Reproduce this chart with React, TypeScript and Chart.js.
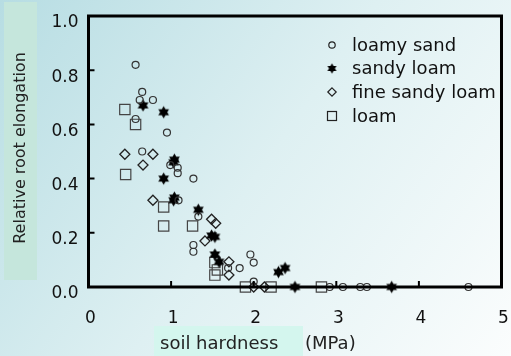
import React, { useEffect, useRef } from 'react';
import { Chart, registerables } from 'chart.js';

Chart.register(...registerables);

// ---- data ----
const loamySandX = [0.57, 0.65, 0.62, 0.78, 0.57, 0.95, 0.65, 0.99, 1.08, 1.08, 1.27, 1.09, 1.33, 1.27, 1.27, 1.69, 1.83, 1.96, 2.0, 2.0, 2.92, 3.08, 3.29, 3.37, 4.6];
const loamySandY = [0.82, 0.72, 0.69, 0.69, 0.62, 0.57, 0.5, 0.45, 0.44, 0.42, 0.4, 0.32, 0.26, 0.155, 0.13, 0.07, 0.07, 0.12, 0.09, 0.02, 0, 0, 0, 0, 0];

const sandyLoamX = [0.66, 0.91, 1.03, 1.04, 0.91, 1.03, 1.04, 1.33, 1.49, 1.53, 1.53, 1.58, 2.3, 2.38, 2.5, 3.67];
const sandyLoamY = [0.67, 0.645, 0.46, 0.47, 0.4, 0.32, 0.33, 0.285, 0.19, 0.185, 0.12, 0.093, 0.055, 0.07, 0, 0];

const fineSandyLoamX = [0.44, 0.78, 0.66, 0.78, 1.49, 1.54, 1.41, 1.7, 1.7, 2.0, 2.13];
const fineSandyLoamY = [0.49, 0.49, 0.45, 0.32, 0.25, 0.235, 0.17, 0.093, 0.044, 0, 0];

const loamX = [0.44, 0.57, 0.45, 0.91, 0.91, 1.26, 1.53, 1.56, 1.53, 1.9, 2.21, 2.82];
const loamY = [0.655, 0.6, 0.415, 0.295, 0.225, 0.225, 0.09, 0.063, 0.044, 0, 0, 0];

const seriesLabels = ['loamy sand', 'sandy loam', 'fine sandy loam', 'loam'];
const xTicks = [0, 1, 2, 3, 4, 5];
const yTicks = [0, 0.2, 0.4, 0.6, 0.8, 1.0];
const xTickLabels = ['0', '1', '2', '3', '4', '5'];
const yTickLabels = ['0.0', '0.2', '0.4', '0.6', '0.8', '1.0'];
const yTitle = 'Relative root elongation';
const xTitle = 'soil hardness';
const xUnit = '(MPa)';

function makeStar(outer: number, inner: number, points: number): HTMLCanvasElement {
  const size = Math.ceil(outer * 2 + 2);
  const c = document.createElement('canvas');
  c.width = size;
  c.height = size;
  const g = c.getContext('2d')!;
  const cx = size / 2;
  const cy = size / 2;
  g.beginPath();
  for (let i = 0; i < points * 2; i++) {
    const r = i % 2 === 0 ? outer : inner;
    const a = -Math.PI / 2 + (i * Math.PI) / points;
    const px = cx + r * Math.cos(a);
    const py = cy + r * Math.sin(a);
    if (i === 0) g.moveTo(px, py);
    else g.lineTo(px, py);
  }
  g.closePath();
  g.fillStyle = '#000';
  g.fill();
  return c;
}

const toPts = (xs: number[], ys: number[]) => xs.map((x, i) => ({ x, y: ys[i] }));

export default function App() {
  const ref = useRef<HTMLCanvasElement>(null);

  useEffect(() => {
    document.body.style.margin = '0';
    const star = makeStar(6.2, 3.6, 6);
    const legendStar = makeStar(5.2, 3.0, 6);

    const datasets: any[] = [
      {
        label: seriesLabels[0],
        data: toPts(loamySandX, loamySandY),
        pointStyle: 'circle',
        pointRadius: 3.5,
        pointBorderWidth: 1.2,
        borderColor: '#333',
        backgroundColor: 'rgba(0,0,0,0)',
        clip: false,
      },
      {
        label: seriesLabels[1],
        data: toPts(sandyLoamX, sandyLoamY),
        pointStyle: star,
        pointRadius: 6,
        borderColor: '#000',
        backgroundColor: '#000',
        clip: false,
      },
      {
        label: seriesLabels[2],
        data: toPts(fineSandyLoamX, fineSandyLoamY),
        pointStyle: 'rectRot',
        pointRadius: 5,
        pointBorderWidth: 1.3,
        borderColor: '#222',
        backgroundColor: 'rgba(0,0,0,0)',
        clip: false,
      },
      {
        label: seriesLabels[3],
        data: toPts(loamX, loamY),
        pointStyle: 'rect',
        pointRadius: 7.3,
        pointBorderWidth: 1.2,
        borderColor: '#444',
        backgroundColor: 'rgba(0,0,0,0)',
        clip: false,
      },
    ];

    const decor = {
      id: 'decor',
      beforeDraw(chart: any) {
        const ctx = chart.ctx as CanvasRenderingContext2D;
        const W = chart.width;
        const H = chart.height;
        ctx.save();
        const grad = ctx.createLinearGradient(0, 0, W, H);
        grad.addColorStop(0, '#b7dde3');
        grad.addColorStop(0.5, '#def0f2');
        grad.addColorStop(1, '#fbfdfd');
        ctx.fillStyle = grad;
        ctx.fillRect(0, 0, W, H);

        // y title box + text
        ctx.fillStyle = '#c5e6dc';
        ctx.fillRect(4, 2, 33, 278);
        ctx.translate(20.5, 148);
        ctx.rotate(-Math.PI / 2);
        ctx.fillStyle = '#222';
        ctx.font = '16px "DejaVu Sans"';
        ctx.textAlign = 'center';
        ctx.textBaseline = 'middle';
        ctx.fillText(yTitle, 0, 0);
        ctx.restore();

        // x title box + text
        ctx.save();
        ctx.fillStyle = '#d4f6ee';
        ctx.fillRect(154, 326, 149, 30);
        ctx.fillStyle = '#222';
        ctx.font = '18px "DejaVu Sans"';
        ctx.textAlign = 'left';
        ctx.textBaseline = 'alphabetic';
        ctx.fillText(xTitle, 160, 349);
        ctx.fillText(xUnit, 305, 349);
        ctx.restore();

        // tick labels
        const xs = chart.scales.x;
        const ys = chart.scales.y;
        ctx.save();
        ctx.fillStyle = '#111';
        ctx.font = '17px "DejaVu Sans"';
        ctx.textBaseline = 'middle';
        ctx.textAlign = 'right';
        yTicks.forEach((v, i) => {
          ctx.fillText(yTickLabels[i], 78.5, ys.getPixelForValue(v) + 7);
        });
        ctx.textAlign = 'center';
        xTicks.forEach((v, i) => {
          ctx.fillText(xTickLabels[i], xs.getPixelForValue(v) + 2, 318.5);
        });
        ctx.restore();
      },
      afterDatasetsDraw(chart: any) {
        const ctx = chart.ctx as CanvasRenderingContext2D;
        const { left, right, top, bottom } = chart.chartArea;
        const xs = chart.scales.x;
        const ys = chart.scales.y;
        ctx.save();
        ctx.strokeStyle = '#000';
        ctx.lineWidth = 2;
        ctx.beginPath();
        for (const v of yTicks) {
          if (v <= 0 || v >= 1) continue;
          const py = ys.getPixelForValue(v);
          ctx.moveTo(left, py);
          ctx.lineTo(left + 6, py);
        }
        for (const v of xTicks) {
          if (v <= 0 || v >= 5) continue;
          const px = xs.getPixelForValue(v);
          ctx.moveTo(px, bottom);
          ctx.lineTo(px, bottom - 6);
        }
        ctx.stroke();
        ctx.lineWidth = 3;
        ctx.strokeRect(left, top, right - left, bottom - top);
        ctx.restore();
      },
      afterDraw(chart: any) {
        const ctx = chart.ctx as CanvasRenderingContext2D;
        const mx = 332;
        const tx = 352;
        const rows = [45, 68.5, 92, 116];
        ctx.save();
        ctx.font = '18px "DejaVu Sans"';
        ctx.fillStyle = '#111';
        ctx.textAlign = 'left';
        ctx.textBaseline = 'middle';
        rows.forEach((y, i) => {
          ctx.fillText(seriesLabels[i], tx, y + 1);
        });
        ctx.strokeStyle = '#222';
        ctx.lineWidth = 1.2;
        ctx.beginPath();
        ctx.arc(mx, rows[0], 3.2, 0, Math.PI * 2);
        ctx.stroke();
        ctx.drawImage(legendStar, mx - legendStar.width / 2, rows[1] - legendStar.height / 2);
        ctx.beginPath();
        ctx.moveTo(mx, rows[2] - 4.2);
        ctx.lineTo(mx + 4.2, rows[2]);
        ctx.lineTo(mx, rows[2] + 4.2);
        ctx.lineTo(mx - 4.2, rows[2]);
        ctx.closePath();
        ctx.stroke();
        ctx.strokeRect(mx - 4.5, rows[3] - 4.5, 9, 9);
        ctx.restore();
      },
    };

    const chart = new Chart(ref.current!, {
      type: 'scatter',
      data: { datasets },
      options: {
        animation: false,
        responsive: false,
        devicePixelRatio: 1,
        layout: { padding: { top: 16, right: 9.5, left: 0, bottom: 0 } },
        plugins: { legend: { display: false }, tooltip: { enabled: false } },
        scales: {
          x: {
            type: 'linear',
            min: 0,
            max: 5,
            grid: { display: false, drawTicks: false },
            border: { display: false },
            ticks: { display: false },
            afterBuildTicks: (s: any) => {
              s.ticks = xTicks.map((v) => ({ value: v }));
            },
            afterFit: (s: any) => {
              s.height = 69;
            },
          },
          y: {
            type: 'linear',
            min: 0,
            max: 1,
            grid: { display: false, drawTicks: false },
            border: { display: false },
            ticks: { display: false },
            afterBuildTicks: (s: any) => {
              s.ticks = yTicks.map((v) => ({ value: v }));
            },
            afterFit: (s: any) => {
              s.width = 88.5;
            },
          },
        },
      } as any,
      plugins: [decor],
    });
    return () => chart.destroy();
  }, []);

  return (
    <div style={{ position: 'fixed', left: 0, top: 0, width: 511, height: 356 }}>
      <canvas ref={ref} width={511} height={356} style={{ width: 511, height: 356, display: 'block' }} />
    </div>
  );
}
